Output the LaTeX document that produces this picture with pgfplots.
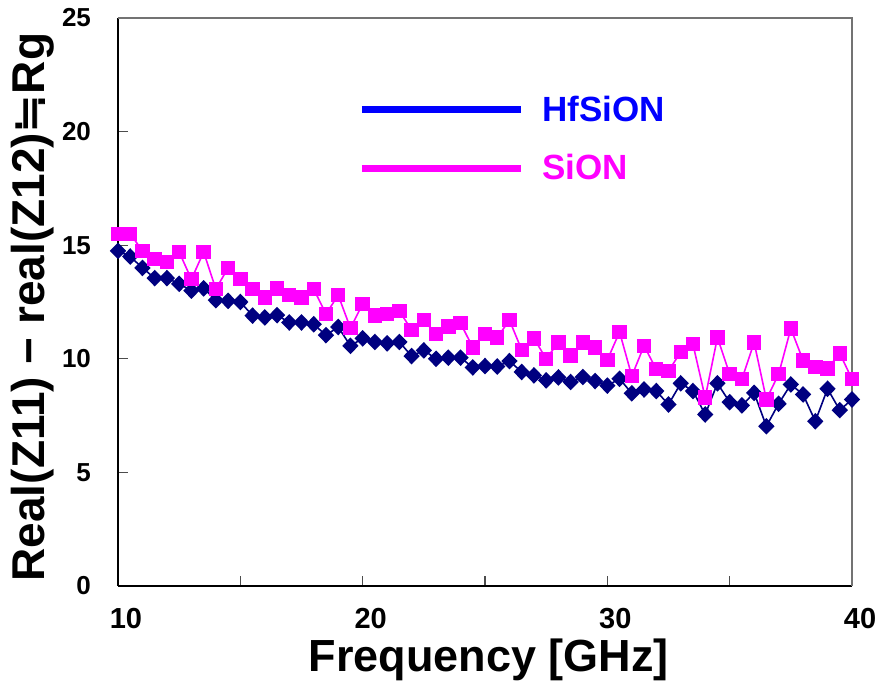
\documentclass[border=0pt]{standalone}
\usepackage{fontspec}
\setmainfont{Liberation Sans}
\newfontfamily\symfont[FakeBold=2]{DejaVu Sans}
\usepackage{pgfplots}
\usepackage{pgfplotstable}
\pgfplotsset{compat=1.18}
\definecolor{hfnavy}{RGB}{0,0,128}
\definecolor{hfblue}{RGB}{0,0,255}
\definecolor{sionpink}{RGB}{255,0,255}

% f [GHz], HfSiON, SiON
\pgfplotstableread{
f     hf     sion
10    14.75  15.50
10.5  14.50  15.50
11    14.00  14.75
11.5  13.55  14.40
12    13.55  14.27
12.5  13.30  14.70
13    13.00  13.50
13.5  13.10  14.70
14    12.58  13.07
14.5  12.55  14.00
15    12.50  13.50
15.5  11.90  13.07
16    11.82  12.70
16.5  11.92  13.10
17    11.60  12.80
17.5  11.60  12.70
18    11.52  13.07
18.5  11.04  11.97
19    11.40  12.80
19.5  10.57  11.35
20    10.90  12.42
20.5  10.74  11.90
21    10.68  11.97
21.5  10.74  12.10
22    10.12  11.27
22.5  10.37  11.70
23    10.00  11.08
23.5  10.05  11.43
24    10.05  11.57
24.5   9.62  10.50
25     9.68  11.10
25.5   9.66  10.94
26     9.90  11.70
26.5   9.42  10.39
27     9.27  10.90
27.5   9.05  10.00
28     9.18  10.72
28.5   8.98  10.15
29     9.20  10.72
29.5   9.02  10.50
30     8.82   9.95
30.5   9.12  11.18
31     8.48   9.24
31.5   8.65  10.57
32     8.58   9.54
32.5   7.99   9.46
33     8.92  10.30
33.5   8.58  10.64
34     7.55   8.29
34.5   8.92  10.94
35     8.09   9.32
35.5   7.95   9.10
36     8.50  10.72
36.5   7.03   8.21
37     8.02   9.32
37.5   8.87  11.33
38     8.43   9.93
38.5   7.25   9.65
39     8.68   9.57
39.5   7.74  10.24
40     8.21   9.10
}\rgdata

\begin{document}
\begin{tikzpicture}
\begin{axis}[
    width=367pt, height=284pt,
    scale only axis,
    xmin=10, xmax=40, ymin=0, ymax=25,
    xtick={10,20,30,40},
    minor xtick={15,25,35},
    ytick={0,5,...,25},
    axis lines=left,
    axis line style={-, black, line width=0.9pt},
    tick align=inside,
    major tick length=5pt,
    minor tick length=5pt,
    tick style={black!70, line width=0.6pt},
    /pgf/number format/assume math mode=true,
    yticklabel style={font=\bfseries\fontsize{13}{15}\selectfont, xshift=-10pt},
    xticklabel style={font=\bfseries\fontsize{14.5}{16}\selectfont, xshift=4pt, yshift=-7.5pt},
    xlabel={Frequency [GHz]},
    ylabel={Real(Z11) − real(Z12){\symfont\mdseries ≒}Rg},
    xlabel style={font=\bfseries\fontsize{22.5}{25}\selectfont,
        at={(axis description cs:0.505,-0.130)}, anchor=center},
    ylabel style={font=\bfseries\fontsize{23}{26}\selectfont,
        at={(axis description cs:-0.116,0.491)}, anchor=center},
    clip=false,
    legend style={at={(axis description cs:0.327,0.864)}, anchor=north west,
        draw=none, fill=none, inner sep=0pt, row sep=15pt,
        font=\bfseries\fontsize{17.5}{20}\selectfont,
        nodes={inner sep=0pt}},
    legend cell align=left,
    legend image code/.code={\draw[#1] (0pt,0pt) -- (79.5pt,0pt);},
]
\draw[black!55, line width=0.7pt] (rel axis cs:0,1) -- (rel axis cs:1,1) -- (rel axis cs:1,0);

\addlegendimage{hfblue, line width=3.5pt}
\addlegendentry{\hspace{9pt}\textcolor{hfblue}{HfSiON}}
\addlegendimage{sionpink, line width=3.5pt}
\addlegendentry{\hspace{9pt}\textcolor{sionpink}{SiON}}

\addplot[hfnavy, line width=0.8pt, mark=diamond*,
    mark size=3.6pt, mark options={xscale=1.3, solid}] table[x=f, y=hf] {\rgdata};
\addplot[sionpink, line width=0.8pt, mark=square*,
    mark size=3.2pt, mark options={solid}] table[x=f, y=sion] {\rgdata};
\end{axis}
\pgfresetboundingbox
\path ([xshift=-59pt,yshift=-49pt]current axis.south west)
    rectangle ([xshift=12.5pt,yshift=9pt]current axis.north east);
\end{tikzpicture}
\end{document}
